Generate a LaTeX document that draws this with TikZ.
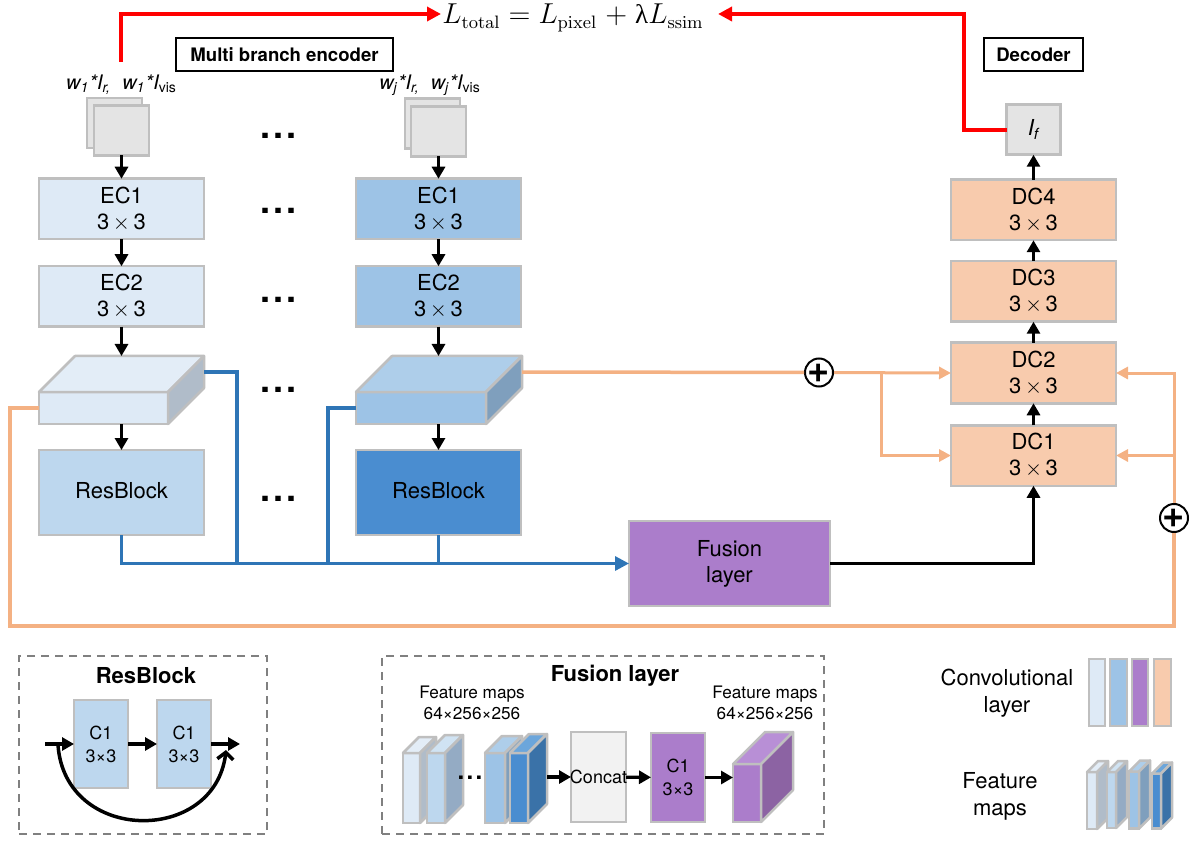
\documentclass[tikz,border=0pt]{standalone}
\usepackage[no-math]{fontspec}
\setmainfont{TeX Gyre Heros}
\newfontfamily\formulafont{Liberation Serif}
\usepackage{tikz}
\usetikzlibrary{arrows.meta,positioning,bending}
\usepackage{xcolor}
\definecolor{boxgray}{HTML}{BFBFBF}
\definecolor{imggray}{HTML}{E4E4E4}
\definecolor{paleblue}{HTML}{DEEAF6}
\definecolor{paletop}{HTML}{E3EDF7}
\definecolor{paleside}{HTML}{B0BCC9}
\definecolor{softblue}{HTML}{BDD7EE}
\definecolor{softtop}{HTML}{D0E3F3}
\definecolor{softside}{HTML}{94ABC4}
\definecolor{skyblue}{HTML}{9DC3E6}
\definecolor{skytop}{HTML}{AECEEA}
\definecolor{skyside}{HTML}{7F9FBD}
\definecolor{deepblue}{HTML}{4A8DD0}
\definecolor{deeptop}{HTML}{6CA6DB}
\definecolor{deepside}{HTML}{3A72A8}
\definecolor{fusepurple}{HTML}{AB7DCB}
\definecolor{fusetop}{HTML}{B88FD6}
\definecolor{fuseside}{HTML}{8C63A3}
\definecolor{peach}{HTML}{F8CBAD}
\definecolor{skipblue}{HTML}{2E75B6}
\definecolor{skiporange}{HTML}{F4B183}
\definecolor{concatgray}{HTML}{F2F2F2}
\definecolor{panelgray}{HTML}{808080}
\newcommand{\plusmark}{\makebox[0pt]{\raisebox{-0.25em}[0pt][0pt]{+}}}
\newcommand{\kernel}{3\,$\times$\,3}
% front face as a node, top and side drawn on it
\newcommand{\cubemap}[8]{
  \node[cubefront, fill=#6, minimum width=#3*0.5pt, minimum height=#4*0.5pt] (#1) at #2 {};
  \draw[cubeedge, fill=#7] (#1.north west) -- ++(#5,-#5) -- ++(#3,0) -- (#1.north east) -- cycle;
  \draw[cubeedge, fill=#8] (#1.north east) -- ++(#5,-#5) -- ++(0,#4) -- (#1.south east) -- cycle;
  \path (#1.north east) ++(#5,-#5) coordinate (#1-t) ++(0,{#4/2}) coordinate (#1-r);
}
\begin{document}
\begin{tikzpicture}[
  x=0.5pt, y=-0.5pt,
  every node/.style={align=center, font=\fontsize{11}{13}\selectfont},
  convbox/.style={draw=boxgray, line width=1.25pt, outer sep=0pt, minimum width=82.5pt, minimum height=30.25pt},
  imgbox/.style={draw=boxgray, fill=imggray, line width=1.25pt, outer sep=0pt, minimum width=27.5pt, minimum height=25pt},
  cubefront/.style={draw=boxgray, line width=1.25pt, outer sep=0pt, inner sep=0pt},
  cubeedge/.style={draw=boxgray, line width=1.25pt, line join=round},
  tagbox/.style={draw=black, line width=0.6pt, outer sep=0pt, minimum height=16.5pt, inner sep=0pt, font=\fontsize{9.3}{10}\selectfont\bfseries},
  inlabel/.style={font=\fontsize{10}{12}\selectfont\itshape},
  dotrow/.style={inner sep=0pt, font=\fontsize{18}{18}\selectfont\bfseries},
  plusnode/.style={circle, draw=black, fill=white, line width=1pt, inner sep=0pt, minimum size=14pt, font=\fontsize{19}{19}\selectfont\bfseries},
  panel/.style={draw=panelgray, line width=1pt, dash pattern=on 4pt off 3pt, outer sep=0pt},
  smalltext/.style={font=\fontsize{8.6}{10.5}\selectfont},
  paneltext/.style={font=\fontsize{9}{11.5}\selectfont},
  paneltitle/.style={font=\fontsize{11}{12}\selectfont\bfseries},
  arr/.style={-{Stealth[length=6pt,width=6.5pt,inset=0pt]}, line width=1.6pt, black},
  bluearr/.style={-{Stealth[length=7pt,width=7pt,inset=0pt]}, line width=1.6pt, skipblue},
  blueline/.style={line width=1.6pt, skipblue},
  orangearr/.style={-{Stealth[length=6pt,width=6pt,inset=0pt]}, line width=1.5pt, skiporange},
  orangeline/.style={line width=1.75pt, skiporange},
  redarr/.style={-{Stealth[length=7pt,width=7pt,inset=0pt]}, line width=1.9pt, red},
]
  \useasboundingbox (0,0) rectangle (1198,844);

  % Formula and tags
  \node[inner sep=0pt, anchor=west, font=\fontsize{13.5}{15}\selectfont] (ltotal) at (442,18)
    {$L_{\mathrm{total}}\;{=}\;L_{\mathrm{pixel}}\;{+}\;\hbox{\formulafont λ}L_{\mathrm{ssim}}$};
  \node[tagbox, minimum width=108.5pt] (encoder) at (284.5,54.5) {Multi branch encoder};
  \node[tagbox, minimum width=49.5pt] (decoder) at (1033.5,54.5) {Decoder};

  % Branch 1
  \node[inlabel] (labela) at (121.5,85) {w\textsubscript{1}*I\textsubscript{r,}\ \ w\textsubscript{1}*I\textsubscript{\upshape vis}};
  \node[imgbox] (ima) at (114.5,123) {};
  \node[imgbox] (imb) at (121.5,130.5) {};
  \node[convbox, fill=paleblue] (eca) at (121.5,209) {EC1\\\kernel};
  \node[convbox, fill=paleblue, below=13.5pt of eca] (ecb) {EC2\\\kernel};
  \cubemap{blocka}{(103.5,408)}{129}{32}{36}{paleblue}{paletop}{paleside}
  \node[convbox, fill=softblue, minimum height=42.5pt] (resa) at (121.5,492.5) {\raisebox{2pt}{ResBlock}};
  \draw[arr] (imb) -- (eca);
  \draw[arr] (eca) -- (ecb);
  \draw[arr] (ecb) -- (ecb.south |- blocka-t);
  \draw[arr] (resa.north |- blocka.south) -- (resa);

  % Branch j
  \node[inlabel] (labelb) at (430,85) {w\textsubscript{j}*I\textsubscript{r,}\ \ w\textsubscript{j}*I\textsubscript{\upshape vis}};
  \node[imgbox] (imc) at (432.5,123.5) {};
  \node[imgbox] (imd) at (438.5,131.5) {};
  \node[convbox, fill=skyblue] (ecc) at (438.5,209) {EC1\\\kernel};
  \node[convbox, fill=skyblue, below=13.5pt of ecc] (ecd) {EC2\\\kernel};
  \cubemap{blockb}{(421,408)}{130}{32}{36}{skyblue}{skytop}{skyside}
  \node[convbox, fill=deepblue, minimum height=42.5pt] (resb) at (438.5,492.5) {\raisebox{2pt}{ResBlock}};
  \draw[arr] (imd) -- (ecc);
  \draw[arr] (ecc) -- (ecd);
  \draw[arr] (ecd) -- (ecd.south |- blockb-t);
  \draw[arr] (resb.north |- blockb.south) -- (resb);

  % Dots between branches
  \node[dotrow] (dota) at (279,136) {.\kern1.5pt.\kern1.5pt.};
  \node[dotrow] (dotb) at (279,211) {.\kern1.5pt.\kern1.5pt.};
  \node[dotrow] (dotc) at (279,300) {.\kern1.5pt.\kern1.5pt.};
  \node[dotrow] (dotd) at (279,390) {.\kern1.5pt.\kern1.5pt.};
  \node[dotrow] (dote) at (279,499) {.\kern1.5pt.\kern1.5pt.};

  % Decoder
  \node[convbox, fill=peach] (dca) at (1033.5,455.5) {DC1\\\kernel};
  \node[convbox, fill=peach, above=11pt of dca] (dcb) {DC2\\\kernel};
  \node[convbox, fill=peach, above=10.5pt of dcb] (dcc) {DC3\\\kernel};
  \node[convbox, fill=peach, above=10.5pt of dcc] (dcd) {DC4\\\kernel};
  \node[imgbox, minimum width=27pt, above=12.5pt of dcd] (ifuse) {\itshape I\textsubscript{f}};
  \draw[arr] (dca) -- (dcb);
  \draw[arr] (dcb) -- (dcc);
  \draw[arr] (dcc) -- (dcd);
  \draw[arr] (dcd) -- (ifuse);

  % Fusion
  \node[convbox, fill=fusepurple, minimum width=100.5pt, minimum height=42.5pt] (fusion) at (729.5,563.5) {Fusion\\layer};
  \draw[arr, line width=1.75pt] (fusion.east) -| (dca.south);

  % Blue skips
  \coordinate (trunka) at (237,563.5);
  \coordinate (trunkb) at (328,563.5);
  \draw[bluearr] (resa.south) |- (fusion.west);
  \draw[blueline] (resb.south) -- (resb.south |- fusion.west);
  \draw[blueline] (blocka-r) -| (trunka);
  \draw[blueline] (blockb.west) -| (trunkb);

  % Orange skips
  \node[plusnode] (plusa) at (819,372.5) {\plusmark};
  \node[plusnode] (plusb) at (1174,518) {\plusmark};
  \coordinate (brancha) at (881,372.5);
  \coordinate (loopa) at (10,626);
  \coordinate (loopb) at (1174,626);
  \draw[orangeline] (blockb-r) -- (plusa);
  \draw[orangearr] (plusa) -- (dcb.west);
  \draw[orangearr] (brancha) |- (dca.west);
  \draw[orangeline] (blocka.west) -| (loopa) -- (loopb) -- (plusb);
  \draw[orangearr] (plusb) |- (dcb.east);
  \draw[orangearr] (plusb) |- (dca.east);

  % Red loss
  \coordinate (redstart) at (121,62);
  \coordinate (redturn) at (964,14);
  \draw[redarr] (redstart) |- ([xshift=-0.5pt,yshift=2pt]ltotal.west);
  \draw[redarr] (ifuse.west) -| (redturn) -- ([xshift=7pt,yshift=2pt]ltotal.east);

  % ResBlock panel
  \node[panel, minimum width=124pt, minimum height=89pt] (respanel) at (143,745) {};
  \node[paneltitle] (restitle) at (146,676) {ResBlock};
  \node[convbox, fill=softblue, paneltext, minimum width=27pt, minimum height=44pt] (rca) at (101,744) {C1\\3×3};
  \node[convbox, fill=softblue, paneltext, minimum width=27pt, minimum height=44pt, right=14.5pt of rca] (rcb) {C1\\3×3};
  \coordinate (rin) at (45,744);
  \coordinate (rout) at (240,744);
  \coordinate (rarca) at (58,745);
  \coordinate (rarcb) at (226,750);
  \draw[arr] (rin) -- (rca);
  \draw[arr] (rca) -- (rcb);
  \draw[arr] (rcb) -- (rout);
  \draw[-{Straight Barb[length=3.5pt,width=8pt,flex=0]}, line width=1.75pt] (rarca) .. controls (65,845) and (219,845) .. (rarcb);

  % Fusion panel
  \node[panel, minimum width=221pt, minimum height=89pt] (fusepanel) at (603,745) {};
  \node[paneltitle] (fusetitle) at (615,676) {Fusion layer};
  \node[smalltext] (mapsa) at (472,703) {Feature maps\\64×256×256};
  \node[smalltext] (mapsb) at (765,703) {Feature maps\\64×256×256};
  \cubemap{fca}{(411.5,788)}{17}{70}{16}{paleblue}{paletop}{paleside}
  \cubemap{fcb}{(436,788)}{18}{70}{18}{softblue}{softtop}{softside}
  \node[dotrow, font=\fontsize{12}{12}\selectfont\bfseries] (fdots) at (470,778) {.\kern1.2pt.\kern1.2pt.};
  \cubemap{fcc}{(495,788)}{20}{70}{17}{skyblue}{skytop}{skyside}
  \cubemap{fcd}{(519,788)}{18}{70}{19}{deepblue}{deeptop}{deepside}
  \node[convbox, fill=concatgray, minimum width=27.5pt, minimum height=45pt] (concat) at (598.5,777) {};
  \node[convbox, fill=fusepurple, paneltext, minimum width=27pt, minimum height=44.5pt] (fcbox) at (678,777.5) {C1\\3×3};
  \cubemap{fce}{(747,793)}{28}{58}{32}{fusepurple}{fusetop}{fuseside}
  \coordinate (fcout) at (547,777);
  \draw[arr] (fcout) -- (concat);
  \draw[arr] (concat) -- (fcbox);
  \draw[arr] (fcbox.east) -- (fcbox.east -| fce.west);
  \node[font=\fontsize{9}{11}\selectfont] (concattext) at (concat) {Concat};

  % Legend
  \node[font=\fontsize{11}{13.5}\selectfont] (legconv) at (1007,693.5) {Convolutional\\layer};
  \node[font=\fontsize{11}{13.5}\selectfont] (legmaps) at (1000,796) {Feature\\maps};
  \node[convbox, fill=paleblue, minimum width=8pt, minimum height=33.5pt] (bara) at (1097,692.5) {};
  \node[convbox, fill=skyblue, minimum width=8.5pt, minimum height=33.5pt, right=2.5pt of bara] (barb) {};
  \node[convbox, fill=fusepurple, minimum width=8pt, minimum height=33.5pt, right=2.5pt of barb] (barc) {};
  \node[convbox, fill=peach, minimum width=8.5pt, minimum height=33.5pt, right=3pt of barc] (bard) {};
  \cubemap{lca}{(1092,800.5)}{10}{57}{11}{paleblue}{paletop}{paleside}
  \cubemap{lcb}{(1111.5,800)}{9}{56}{11}{softblue}{softtop}{softside}
  \cubemap{lcc}{(1134,800)}{10}{57}{11}{skyblue}{skytop}{skyside}
  \cubemap{lcd}{(1156.5,801)}{9}{55}{11}{deepblue}{deeptop}{deepside}
\end{tikzpicture}
\end{document}
